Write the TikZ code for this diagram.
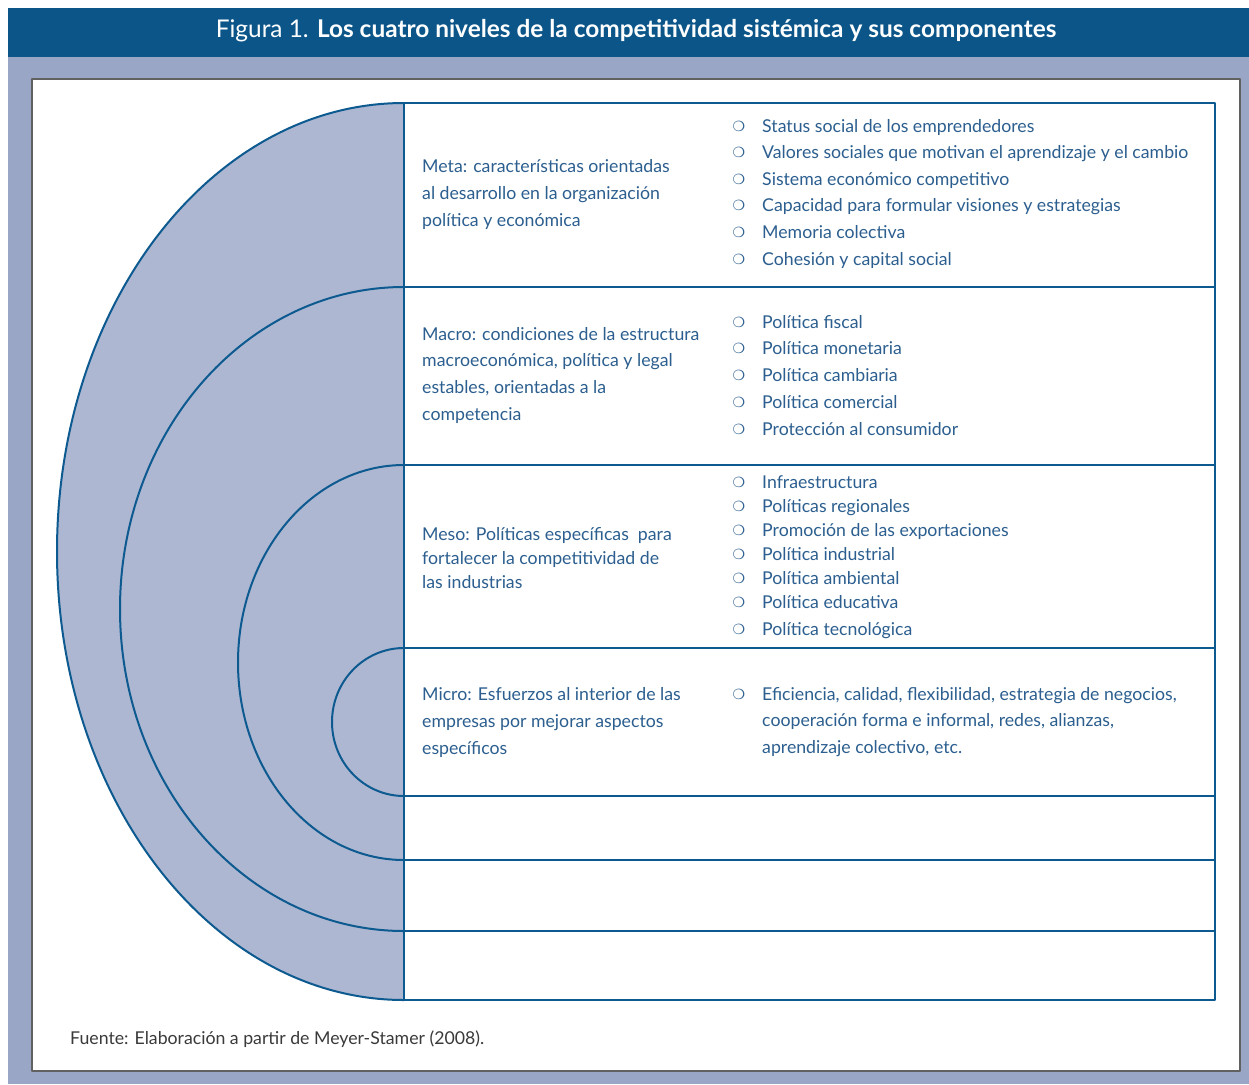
\documentclass[tikz,border=0pt]{standalone}
\usepackage{fontspec}
\setmainfont{Lato}
\newfontfamily\dingfont{DejaVu Sans}
\definecolor{barblue}{HTML}{0B5589}
\definecolor{bggrey}{HTML}{9AA6C6}
\definecolor{ellfill}{HTML}{ADB7D2}
\definecolor{lineblue}{HTML}{0D5A90}
\definecolor{textblue}{HTML}{2C5F8F}
\definecolor{footgrey}{HTML}{3A3A3A}
\begin{document}
\begin{tikzpicture}[x=1pt,y=-1pt,line join=round,
	txt/.style={anchor=west,inner sep=0pt,yshift=-3.5pt,text height=0.7em,text depth=0.2em,font=\fontsize{17.7}{21}\selectfont,text=textblue},
	bul/.style={anchor=center,inner sep=0pt,font=\dingfont\fontsize{14}{16}\selectfont,text=textblue}]
	\useasboundingbox (0,0) rectangle (1249,1084);
	\fill[bggrey] (8,57) rectangle (1249,1084);
	\fill[barblue] (8,8) rectangle (1249,57);
	\node[text=white,font=\fontsize{24.4}{28}\selectfont] (title) at (636,31) {Figura 1. \textbf{Los cuatro niveles de la competitividad sistémica y sus componentes}};
	\draw[footgrey!80,line width=1.2pt,fill=white] (32,79) rectangle (1240,1071);
	% semielipses
	\fill[ellfill] (404,103) arc[start angle=-90,end angle=-270,x radius=347,y radius=448.5] -- cycle;
	\foreach \t/\b/\w in {103/1000/347,287/931/284,465/860/166,648/796/72}
		\draw[lineblue,line width=2pt] (404,\t) arc[start angle=-90,end angle=-270,x radius=\w,y radius={(\b-\t)/2}];
	% cuadro derecho
	\foreach \y in {287,465,648,796,860,931}
		\draw[lineblue,line width=2.2pt] (404,\y) -- (1215,\y);
	\draw[lineblue,line width=2.2pt] (1215,103) -- (404,103) -- (404,1000) -- (1215,1000) -- cycle;
	% niveles
	\foreach \l [count=\i] in {Meta: características orientadas,al desarrollo en la organización,política y económica}
		\node[txt] (meta\i) at (422,{166+27*(\i-1)}) {\l};
	\foreach \l [count=\i] in {Macro: condiciones de la estructura,{macroeconómica, política y legal},{estables, orientadas a la},competencia}
		\node[txt] (macro\i) at (422,{334+26.7*(\i-1)}) {\l};
	\foreach \l [count=\i] in {Meso: Políticas específicas\ \ para,fortalecer la competitividad de,las industrias}
		\node[txt] (meso\i) at (422,{534+24*(\i-1)}) {\l};
	\foreach \l [count=\i] in {Micro: Esfuerzos al interior de las,empresas por mejorar aspectos,específicos}
		\node[txt] (micro\i) at (422,{694+27*(\i-1)}) {\l};
	% componentes
	\foreach \l [count=\i] in {Status social de los emprendedores,Valores sociales que motivan el aprendizaje y el cambio,Sistema económico competitivo,Capacidad para formular visiones y estrategias,Memoria colectiva,Cohesión y capital social}{
		\node[bul] (bmeta\i) at (739,{126+26.6*(\i-1)}) {❍};
		\node[txt] (cmeta\i) at (762,{126+26.6*(\i-1)}) {\l};}
	\foreach \l [count=\i] in {Política fiscal,Política monetaria,Política cambiaria,Política comercial,Protección al consumidor}{
		\node[bul] (bmacro\i) at (739,{322+26.75*(\i-1)}) {❍};
		\node[txt] (cmacro\i) at (762,{322+26.75*(\i-1)}) {\l};}
	\foreach \l/\y [count=\i] in {Infraestructura/482,Políticas regionales/506,Promoción de las exportaciones/530,Política industrial/554,Política ambiental/578,Política educativa/602,Política tecnológica/629}{
		\node[bul] (bmeso\i) at (739,\y) {❍};
		\node[txt] (cmeso\i) at (762,\y) {\l};}
	\node[bul] (bmicro1) at (739,694) {❍};
	\foreach \l [count=\i] in {{Eficiencia, calidad, flexibilidad, estrategia de negocios,},{cooperación forma e informal, redes, alianzas,},{aprendizaje colectivo, etc.}}
		\node[txt] (cmicro\i) at (762,{694+26.5*(\i-1)}) {\l};
	\node[txt,text=footgrey,font=\fontsize{17.7}{21}\selectfont] (fuente) at (70,1038) {Fuente: Elaboración a partir de Meyer-Stamer (2008).};
\end{tikzpicture}
\end{document}
